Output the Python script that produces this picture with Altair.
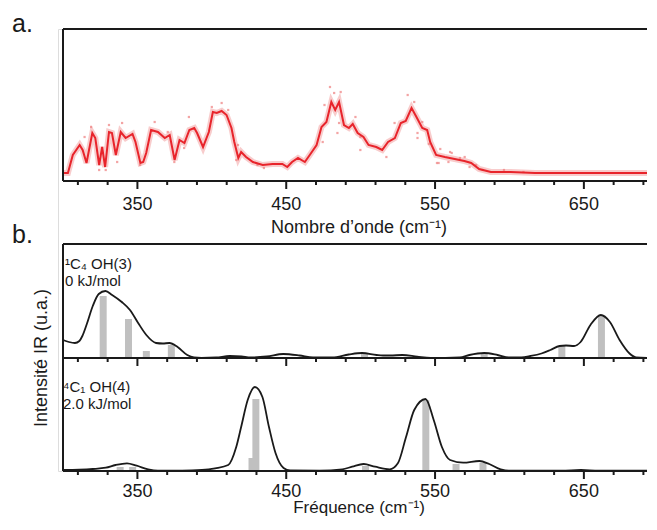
import altair as alt
import pandas as pd

FONT = "Liberation Sans"
INK = "#1a1a1a"

# ---------------- data ----------------
# panel a: experimental spectrum (wavenumber, intensity in arbitrary units)
exp_w = [300.7, 303.3, 306.6, 311.2, 313.2, 315.8, 319.7, 321.7, 324.3, 326.3,
         328.3, 330.9, 332.9, 335.5, 338.8, 342.1, 346.7, 348.7, 352.0, 353.9,
         355.9, 359.2, 363.8, 368.4, 371.7, 375.0, 378.3, 381.6, 384.9, 388.2,
         390.1, 394.1, 398.0, 400.7, 403.3, 406.6, 409.9, 413.2, 415.1, 417.8,
         419.7, 423.0, 427.6, 434.2, 440.8, 447.4, 450.7, 453.9, 457.9, 462.5,
         465.8, 470.4, 473.7, 477.0, 480.3, 482.9, 485.5, 488.8, 492.1, 494.7,
         498.0, 501.9, 505.3, 510.5, 514.5, 518.4, 523.0, 527.0, 530.3, 534.2,
         537.5, 541.4, 544.7, 546.7, 550.7, 556.6, 563.2, 569.7, 574.3, 579.6,
         587.5, 600.7, 617.1, 650.0, 695.0]
exp_i = [8, 8, 26, 36, 31, 18, 48, 43, 16, 34,
         14, 49, 48, 26, 49, 43, 47, 39, 18, 19,
         28, 51, 49, 43, 46, 21, 41, 38, 51, 53,
         48, 34, 49, 69, 68, 70, 66, 53, 39, 23,
         29, 24, 19, 16, 17, 17, 14, 19, 23, 19,
         26, 36, 54, 59, 79, 71, 79, 56, 53, 57,
         48, 44, 36, 34, 31, 39, 43, 58, 60, 73,
         64, 53, 51, 39, 26, 24, 22, 20, 18, 12,
         9, 9, 8, 8, 8]

# individual scattered measurement points around the averaged trace
dots_w = [479.4, 482.2, 486.6, 475.7, 531.6, 522.8, 474.5, 485.5, 484.4, 496.5,
          499.8, 499.8, 517.3, 538.2, 552.4, 560.1, 566.7, 573.2, 314.5, 318.9,
          330.9, 339.7, 324.3, 328.7, 336.4, 351.8, 361.6, 370.4, 374.8, 384.6,
          381.4, 400.0, 406.6, 411.0, 417.6, 416.4, 430.7, 435.0, 536.0, 541.4,
          538.2, 545.8, 551.3, 553.5, 561.2, 559.0, 569.9, 577.6, 582.0, 596.3, 609.4]
dots_i = [94, 88, 89, 76, 86, 58, 39, 58, 48, 64,
          44, 31, 24, 48, 18, 29, 23, 14, 44, 54,
          56, 58, 11, 11, 19, 16, 59, 49, 19, 64,
          33, 74, 78, 71, 36, 21, 16, 13, 79, 59,
          43, 37, 18, 32, 28, 19, 24, 16, 11, 11, 9]

# panel b, top: 1C4 OH(3)
c1_stick_w = [327.0, 344.0, 356.0, 372.8, 502.6, 583.0, 635.2, 661.8]
c1_stick_i = [62, 39, 7, 13, 4, 4, 12, 42]
c1_curve_w = [300, 304, 308, 311, 313, 316, 320, 324, 328.5, 333, 339.5, 345, 350.5,
              356, 362.5, 367, 371.5, 377, 383.5, 388, 393, 403, 412, 420, 426, 437,
              448, 459, 468, 481, 492, 501, 510.7, 515, 520, 528, 538, 547, 557,
              566.7, 573, 583, 592, 599.5, 608, 614, 621.5, 627.5, 633.6, 638, 643.4,
              647.8, 654.4, 661.4, 667.5, 674, 680.7, 685, 695]
c1_curve_i = [18, 16, 15, 17, 22, 34, 52, 64, 67, 63, 56, 48, 35,
              23, 15, 14.5, 15, 11, 3, 0.5, 0, 0.5, 2, 1.5, 0.5, 1.5,
              4, 2.5, 0.5, 0.5, 3.5, 5, 3, 2.5, 2.5, 3, 1.3, 0, 0,
              0.5, 3, 5, 3, 0.5, 0.7, 2, 4.5, 8, 12, 12.5, 12,
              16, 33, 43, 36, 18, 4.5, 0.7, 0]

# panel b, bottom: 4C1 OH(4)
c2_stick_w = [317.0, 338.4, 346.8, 427.0, 429.6, 503.3, 543.8, 564.1, 582.2, 648.0]
c2_stick_i = [1.5, 4, 4, 13, 72, 5, 71, 7, 8, 1]
c2_curve_w = [300, 311, 320, 328.8, 335.3, 343, 349.5, 357.2, 363.8, 380, 393.4, 402.2,
              411, 416.4, 419.7, 424.1, 428.9, 434, 438.4, 442.8, 448.2, 452.6, 472.4,
              487.7, 494.3, 502, 509.7, 519.5, 525, 530.5, 536, 543.6, 549.1, 554.6,
              560.1, 568.9, 579.8, 586.4, 594.1, 599.5, 635, 648, 660, 695]
c2_curve_i = [1, 1.3, 2, 3.3, 6, 7.7, 5.3, 1.7, 0.3, 0.3, 1, 2.7,
              6, 24, 44, 71, 84, 74, 44, 18, 3, 0.5, 0.3,
              1.7, 4.3, 7, 4.3, 1.7, 7.7, 34, 61, 72, 51, 24,
              11, 8.3, 10, 7, 1.7, 0.3, 0.3, 1, 0.3, 0.3]

tick_values = [310, 330, 350, 370, 390, 410, 430, 450, 470, 490, 510, 530, 550,
               570, 590, 610, 630, 650, 670, 690]
tick_labels = [350, 450, 550, 650]
x_min, x_max_full = 300, 695
title_a = "Nombre d’onde (cm⁻¹)"
title_b = "Fréquence (cm⁻¹)"
title_y = "Intensité IR (u.a.)"
labels_b = ["¹C₄ OH(3)\n0 kJ/mol", "⁴C₁ OH(4)\n2.0 kJ/mol"]

# ---------------- layout (one pixel-unit y scale holding both panels) ----------------
PX_PER_CM = 598 / (x_max_full - x_min)     # frame runs off the right edge of the page
W, H = 589, 442                             # visible part of the plot
x_domain = [x_min, x_min + W / PX_PER_CM]
B_BOT, B_MID, B_TOP = 0, 113, 227      # panel b: bottom axis, middle axis, top frame
A_BOT, A_TOP = 290, 442                # panel a: axis, top frame
XS = alt.Scale(domain=x_domain, nice=False, zero=False)
YS = alt.Scale(domain=[0, H], nice=False, zero=False)


def X(f="w:Q"):
    return alt.X(f, scale=XS, axis=None)


def Y(f):
    return alt.Y(f, scale=YS, axis=None)


df_exp = pd.DataFrame({"w": exp_w, "i": exp_i})
df_dots = pd.DataFrame({"w": dots_w, "i": dots_i})
df_s1 = pd.DataFrame({"w": c1_stick_w, "i": c1_stick_i})
df_c1 = pd.DataFrame({"w": c1_curve_w, "i": c1_curve_i})
df_s2 = pd.DataFrame({"w": c2_stick_w, "i": c2_stick_i})
df_c2 = pd.DataFrame({"w": c2_curve_w, "i": c2_curve_i})
df_ticks = pd.DataFrame([{"w": w, "base": b} for b in (A_BOT, B_MID, B_BOT) for w in tick_values])
# label offset below each labelled axis (pixel units)
df_tlab = pd.DataFrame([{"w": w, "base": b, "gap": g}
                        for b, g in ((A_BOT, 15), (B_BOT, 12)) for w in tick_labels])
df_hlines = pd.DataFrame({"w": [x_min] * 5, "w2": [x_max_full] * 5,
                          "y": [A_TOP, A_BOT, B_TOP, B_MID, B_BOT]})
df_vlines = pd.DataFrame({"w": [x_min] * 2, "y": [A_BOT, B_BOT], "y2": [A_TOP, B_TOP]})


def shifted(df, base):
    return alt.Chart(df).transform_calculate(v=f"datum.i + {base}", base=f"{base}")


# panel a: experimental spectrum
halo = shifted(df_exp, A_BOT).mark_line(color="#f3a3a3", strokeWidth=6, opacity=0.55).encode(
    x=X(), y=Y("v:Q"))
dots = shifted(df_dots, A_BOT).mark_square(color="#ee7d7d", size=5, opacity=0.7).encode(
    x=X(), y=Y("v:Q"))
exp_line = shifted(df_exp, A_BOT).mark_line(color="#e8242b", strokeWidth=2).encode(
    x=X(), y=Y("v:Q"))

# panel b: computed sticks and convoluted spectra
sticks1 = shifted(df_s1, B_MID).mark_bar(color="#c0c0c0", size=7).encode(
    x=X(), y=Y("v:Q"), y2="base:Q")
curve1 = shifted(df_c1, B_MID).mark_line(color=INK, strokeWidth=1.8, interpolate="monotone").encode(
    x=X(), y=Y("v:Q"))
sticks2 = shifted(df_s2, B_BOT).mark_bar(color="#c0c0c0", size=7).encode(
    x=X(), y=Y("v:Q"), y2="base:Q")
curve2 = shifted(df_c2, B_BOT).mark_line(color=INK, strokeWidth=1.8, interpolate="monotone").encode(
    x=X(), y=Y("v:Q"))

# frames, ticks, tick labels
hlines = alt.Chart(df_hlines).mark_rule(color=INK, strokeWidth=2).encode(
    x=X(), x2="w2:Q", y=Y("y:Q"))
vlines = alt.Chart(df_vlines).mark_rule(color=INK, strokeWidth=2).encode(
    x=X(), y=Y("y:Q"), y2="y2:Q")
ticks = alt.Chart(df_ticks).transform_calculate(
    end="datum.base - (datum.w % 100 == 50 ? 8 : 4)").mark_rule(
    color=INK, strokeWidth=2).encode(x=X(), y=Y("base:Q"), y2="end:Q")
tlabels = alt.Chart(df_tlab).transform_calculate(ly="datum.base - datum.gap").mark_text(
    baseline="top", align="center", font=FONT, fontSize=18, color=INK).encode(
    x=X(), y=Y("ly:Q"), text="w:N")


def text_layer(t, x, y, size=18, angle=0, align="center", baseline="alphabetic", **kw):
    return alt.Chart(pd.DataFrame({"t": [t]})).mark_text(
        align=align, baseline=baseline, font=FONT, fontSize=size, color=INK, angle=angle,
        **kw).encode(x=alt.value(x), y=alt.value(y), text="t:N")


texts = [
    text_layer("a.", -46, 3, size=25, align="left"),
    text_layer("b.", -46, 214, size=25, align="left"),
    text_layer(title_a, 301, 204),
    text_layer(title_b, 301, 484, size=17),
    text_layer(title_y, -11, 329, angle=270),
    text_layer(labels_b[0], 7, 240, size=15, align="left", lineBreak="\n", lineHeight=17),
    text_layer(labels_b[1], 5, 363, size=15, align="left", lineBreak="\n", lineHeight=17),
]

chart = alt.layer(
    halo, dots, exp_line, sticks1, sticks2, curve1, curve2,
    hlines, vlines, ticks, tlabels, *texts
).properties(
    width=W, height=H,
    autosize=alt.AutoSizeParams(type="none"),
    padding={"left": 50, "top": 21, "right": 0, "bottom": 46},
).configure_view(stroke=None).configure(font=FONT)

chart.save("out.html", embed_options={"renderer": "svg", "actions": False})
